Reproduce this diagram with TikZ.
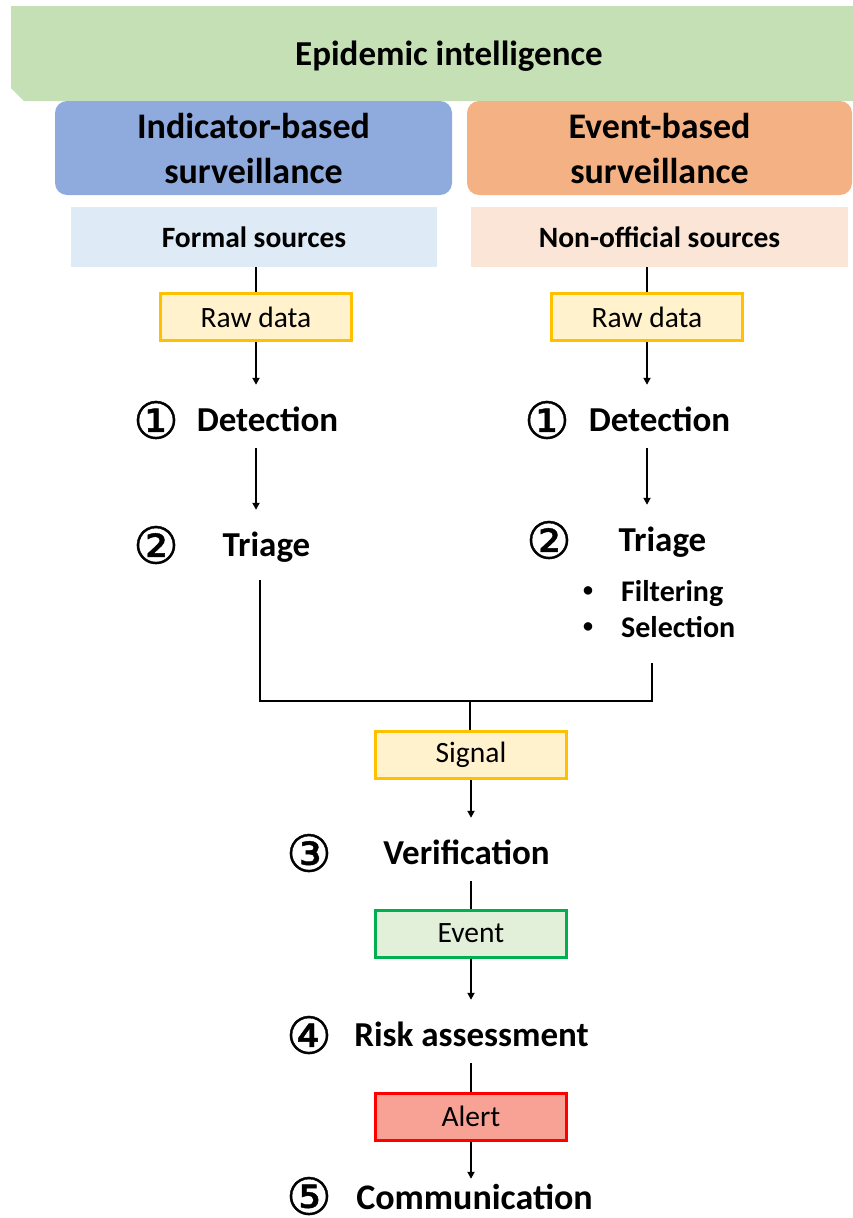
\documentclass[tikz,border=0pt]{standalone}
\usepackage{fontspec}
\setmainfont{Carlito}
\newfontfamily\circfont{DejaVu Sans}[FakeBold=0.8]
\usetikzlibrary{arrows.meta,calc}
\definecolor{bannergreen}{HTML}{C5E0B4}
\definecolor{ibsblue}{HTML}{8FAADC}
\definecolor{ebsorange}{HTML}{F4B183}
\definecolor{srcblue}{HTML}{DEEBF7}
\definecolor{srcorange}{HTML}{FBE5D6}
\definecolor{ydraw}{HTML}{FFC000}
\definecolor{yfill}{HTML}{FFF2CC}
\definecolor{gdraw}{HTML}{00B050}
\definecolor{gfill}{HTML}{E2F0D9}
\definecolor{rdraw}{HTML}{FF0000}
\definecolor{rfill}{HTML}{F8A195}
\begin{document}
\begin{tikzpicture}[x=1pt,y=-1pt,
 titletext/.style={font=\fontsize{35}{42}\selectfont\bfseries, inner sep=0},
 hdr/.style={rounded corners=12pt, minimum height=94pt, font=\fontsize{36}{45}\selectfont\bfseries, align=center, inner sep=0},
 src/.style={minimum height=60pt, font=\fontsize{29.5}{32}\selectfont\bfseries, inner sep=0},
 databox/.style={draw, line width=3pt, minimum width=191pt, minimum height=47pt, font=\fontsize{29.5}{32}\selectfont, inner sep=0},
 steplabel/.style={minimum height=70pt, inner sep=0, text height=26pt, text depth=4pt, font=\fontsize{35}{40}\selectfont\bfseries},
 subitem/.style={inner sep=0, text height=22pt, text depth=3pt, font=\fontsize{30}{34}\selectfont\bfseries},
 bulletdot/.style={inner sep=0, font=\fontsize{20}{24}\selectfont\bfseries},
 circnum/.style={font=\circfont\fontsize{51}{56}\selectfont, inner sep=0},
 conn/.style={line width=1.8pt},
 arr/.style={conn, -{Triangle[length=7pt,width=7pt]}},
 tailfix/.style={shorten <=-7pt}
]
\useasboundingbox (0,0) rectangle (853,1218);
% banner
\fill[bannergreen] (11,6) -- (853,6) -- (853,101) -- (24,101) -- (11,88) -- cycle;
\node[titletext] (title) at (449,56) {Epidemic intelligence};
% headers
\node[hdr, fill=ibsblue, minimum width=397pt] (ibs) at (253.5,148) {Indicator-based\\surveillance};
\node[hdr, fill=ebsorange, minimum width=385pt] (ebs) at (659.5,148) {Event-based\\surveillance};
% sources
\node[src, fill=srcblue, minimum width=366pt] (formal) at (254,237) {Formal sources};
\node[src, fill=srcorange, minimum width=377pt] (nonoff) at (659.5,237) {Non-official sources};
% raw data
\node[databox, draw=ydraw, fill=yfill] (raw1) at (256,317) {Raw data};
\node[databox, draw=ydraw, fill=yfill] (raw2) at (647,317) {Raw data};
% left column
\node[circnum] (n1a) at (156,420) {①};
\node[steplabel] (det1) at (267.5,420) {Detection};
\node[circnum] (n2a) at (156,545) {②};
\node[steplabel] (tri1) at (266.5,545) {Triage};
% right column
\node[circnum] (n1b) at (547,420) {①};
\node[steplabel] (det2) at (659.5,420) {Detection};
\node[circnum] (n2b) at (549,540) {②};
\node[steplabel] (tri2) at (662.5,540) {Triage};
\node[bulletdot] (b1) at (588,592) {•};
\node[subitem, anchor=west] (filt) at (621,592) {Filtering};
\node[bulletdot] (b2) at (588,628) {•};
\node[subitem, anchor=west] (sel) at (621,628) {Selection};
% bottom chain
\node[databox, draw=ydraw, fill=yfill] (signal) at (471,755) {Signal};
\node[circnum] (n3) at (309,853) {③};
\node[steplabel] (ver) at (466.5,853) {Verification};
\node[databox, draw=gdraw, fill=gfill] (event) at (471,933.5) {Event};
\node[circnum] (n4) at (309,1035) {④};
\node[steplabel] (risk) at (471.5,1035) {Risk assessment};
\node[databox, draw=rdraw, fill=rfill] (alert) at (471,1116.5) {Alert};
\node[circnum] (n5) at (309,1196) {⑤};
\node[steplabel, minimum height=38pt, font=\fontsize{36}{40}\selectfont\bfseries] (comm) at (474.5,1198) {Communication};
% junction coordinates
\coordinate (jl) at (260,701);
\coordinate (jr) at (652,701);
\coordinate (jm) at (470,701);
\coordinate (rtop) at (652,663);
% connectors left
\draw[conn] (raw1.north |- formal.south) -- (raw1.north);
\draw[arr] (raw1.south) -- (raw1.south |- det1.north);
\draw[arr, tailfix] (raw1.south |- det1.south) -- (raw1.south |- tri1.north);
% connectors right
\draw[conn] (raw2.north |- nonoff.south) -- (raw2.north);
\draw[arr] (raw2.south) -- (raw2.south |- det2.north);
\draw[arr, tailfix] (raw2.south |- det2.south) -- (raw2.south |- tri2.north);
% merge
\draw[conn] (jl |- tri1.south) -- (jl) -- (jr) -- (rtop);
\draw[conn] (jm) -- (jm |- signal.north);
% bottom chain
\draw[arr] (signal.south) -- (signal.south |- ver.north);
\draw[conn, tailfix] (signal.south |- ver.south) -- (event.north);
\draw[arr] (event.south) -- (event.south |- risk.north);
\draw[conn, tailfix] (event.south |- risk.south) -- (alert.north);
\draw[arr] (alert.south) -- (alert.south |- comm.north);
\end{tikzpicture}
\end{document}
